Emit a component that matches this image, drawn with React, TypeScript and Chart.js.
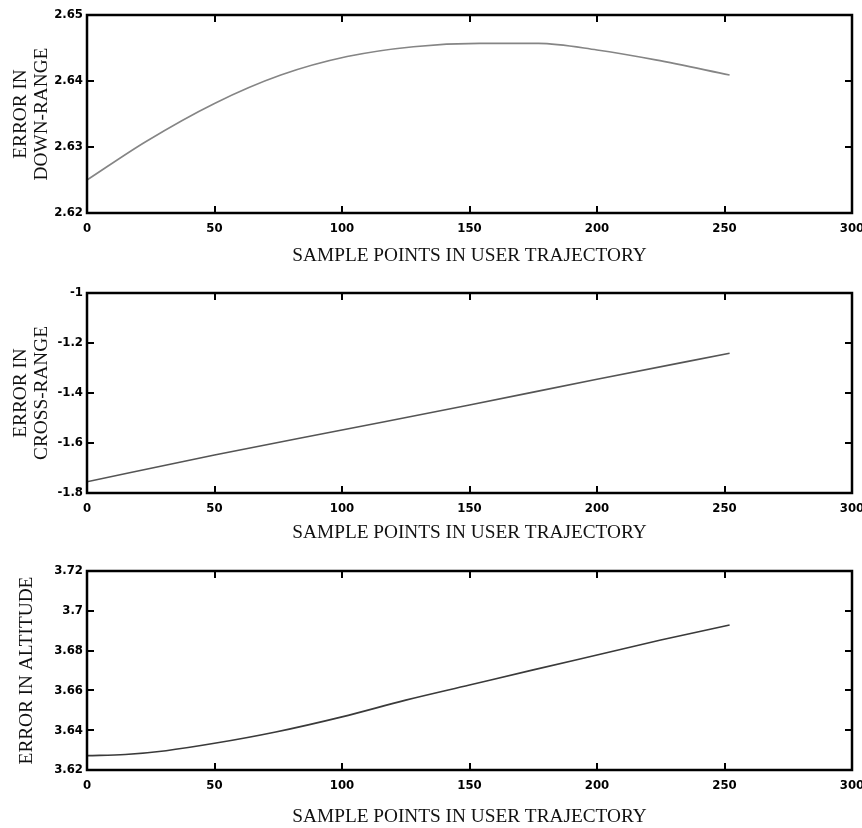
import React, { useEffect, useRef } from "react";
import { Chart, registerables } from "chart.js";

Chart.register(...registerables);

// ---- data ----
const sampleTicks = [0, 50, 100, 150, 200, 250, 300];
const xAxisTitle = "SAMPLE POINTS IN USER TRAJECTORY";

const downRangeX = [0, 23, 50, 76, 102, 128, 154, 177, 200, 223, 252];
const downRangeY = [2.625, 2.6308, 2.6366, 2.6409, 2.6437, 2.6452, 2.6457, 2.6457, 2.6447, 2.6432, 2.6409];
const downRangeTicks = [2.62, 2.63, 2.64, 2.65];
const downRangeTitle = ["ERROR IN", "DOWN-RANGE"];

const crossRangeX = [0, 50, 100, 150, 200, 252];
const crossRangeY = [-1.755, -1.648, -1.548, -1.448, -1.345, -1.241];
const crossRangeTicks = [-1.8, -1.6, -1.4, -1.2, -1];
const crossRangeTitle = ["ERROR IN", "CROSS-RANGE"];

const altitudeX = [0, 15, 31, 50, 74, 100, 125, 150, 175, 200, 225, 252];
const altitudeY = [3.6272, 3.6278, 3.6297, 3.6334, 3.6391, 3.6467, 3.6551, 3.6627, 3.6703, 3.6778, 3.6853, 3.6929];
const altitudeTicks = [3.62, 3.64, 3.66, 3.68, 3.7, 3.72];
const altitudeTitle = "ERROR IN ALTITUDE";

const TICK_FONT = { family: "'Liberation Sans Narrow', 'DejaVu Sans Condensed', sans-serif", size: 13, weight: "bold" as const };
const TITLE_FONT = { family: "'Liberation Serif', 'Times New Roman', serif", size: 19.3, lineHeight: 1.1 };

const framePlugin = {
  id: "matlabFrame",
  afterDraw(chart: any) {
    const { ctx, chartArea: a, scales } = chart;
    const L = 7;
    ctx.save();
    ctx.strokeStyle = "#000";
    ctx.lineWidth = 2;
    ctx.beginPath();
    for (const t of scales.x.ticks) {
      const px = Math.round(scales.x.getPixelForValue(t.value));
      ctx.moveTo(px, a.bottom);
      ctx.lineTo(px, a.bottom - L);
      ctx.moveTo(px, a.top);
      ctx.lineTo(px, a.top + L);
    }
    for (const t of scales.y.ticks) {
      const py = Math.round(scales.y.getPixelForValue(t.value));
      ctx.moveTo(a.left, py);
      ctx.lineTo(a.left + L, py);
      ctx.moveTo(a.right, py);
      ctx.lineTo(a.right - L, py);
    }
    ctx.stroke();
    ctx.lineWidth = 2.5;
    ctx.strokeRect(a.left, a.top, a.right - a.left, a.bottom - a.top);
    ctx.restore();
  },
};

type PanelProps = {
  top: number;
  height: number;
  padTop: number;
  xAxisHeight: number;
  xTitleBottom: number;
  yTitlePad: number;
  xs: number[];
  ys: number[];
  yTicks: number[];
  yTitle: string | string[];
  color: string;
};

function Panel(p: PanelProps) {
  const ref = useRef<HTMLCanvasElement | null>(null);
  useEffect(() => {
    if (!ref.current) return;
    const yMin = p.yTicks[0];
    const yMax = p.yTicks[p.yTicks.length - 1];
    const chart = new Chart(ref.current, {
      type: "line",
      data: {
        datasets: [
          {
            data: p.xs.map((x, i) => ({ x, y: p.ys[i] })),
            borderColor: p.color,
            borderWidth: 1.6,
            pointRadius: 0,
            fill: false,
            cubicInterpolationMode: "monotone",
          },
        ],
      },
      options: {
        animation: false,
        responsive: false,
        devicePixelRatio: 1,
        layout: { padding: { top: p.padTop, right: 10, bottom: 0, left: 0 } },
        plugins: { legend: { display: false }, tooltip: { enabled: false } },
        scales: {
          x: {
            type: "linear",
            min: 0,
            max: 300,
            afterBuildTicks: (s: any) => {
              s.ticks = sampleTicks.map((v) => ({ value: v }));
            },
            afterFit: (s: any) => {
              s.height = p.xAxisHeight;
              s.paddingLeft = 0;
              s.paddingRight = 0;
            },
            grid: { display: false, drawTicks: false },
            border: { display: false },
            ticks: {
              font: TICK_FONT,
              color: "#000",
              padding: 8,
              maxRotation: 0,
              autoSkip: false,
              callback: (v: any) => String(v),
            },
            title: {
              display: true,
              text: xAxisTitle,
              font: TITLE_FONT,
              color: "#111",
              padding: { top: 0, bottom: p.xTitleBottom },
            },
          },
          y: {
            type: "linear",
            min: yMin,
            max: yMax,
            afterBuildTicks: (s: any) => {
              s.ticks = p.yTicks.map((v) => ({ value: v }));
            },
            afterFit: (s: any) => {
              s.width = 87;
              s.paddingTop = 0;
              s.paddingBottom = 0;
            },
            grid: { display: false, drawTicks: false },
            border: { display: false },
            ticks: {
              font: TICK_FONT,
              color: "#000",
              padding: 4,
              autoSkip: false,
              callback: (v: any) => String(v),
            },
            title: {
              display: true,
              text: p.yTitle,
              font: TITLE_FONT,
              color: "#111",
              padding: { top: p.yTitlePad, bottom: 0 },
            },
          },
        },
      },
      plugins: [framePlugin],
    } as any);
    return () => chart.destroy();
  }, []);
  return (
    <canvas
      ref={ref}
      width={862}
      height={p.height}
      style={{ position: "absolute", left: 0, top: p.top, width: 862, height: p.height, display: "block" }}
    />
  );
}

export default function App() {
  return (
    <div style={{ position: "absolute", left: 0, top: 0, width: 862, height: 828, background: "#fff", overflow: "hidden" }}>
      <Panel top={0} height={268} padTop={15} xAxisHeight={55} xTitleBottom={1.5} yTitlePad={10.5}
        xs={downRangeX} ys={downRangeY} yTicks={downRangeTicks} yTitle={downRangeTitle} color="#858585" />
      <Panel top={268} height={280} padTop={25} xAxisHeight={55} xTitleBottom={4.5} yTitlePad={10.5}
        xs={crossRangeX} ys={crossRangeY} yTicks={crossRangeTicks} yTitle={crossRangeTitle} color="#555" />
      <Panel top={548} height={280} padTop={23} xAxisHeight={58} xTitleBottom={0} yTitlePad={16.5}
        xs={altitudeX} ys={altitudeY} yTicks={altitudeTicks} yTitle={altitudeTitle} color="#3a3a3a" />
    </div>
  );
}
